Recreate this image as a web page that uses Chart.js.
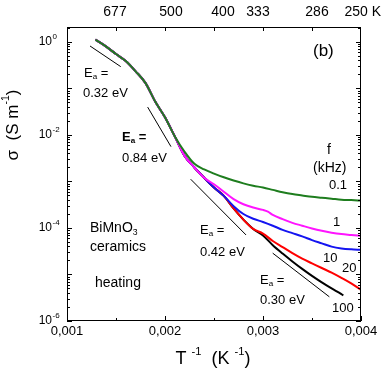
<!DOCTYPE html>
<html>
<head>
<meta charset="utf-8">
<script src="https://cdn.jsdelivr.net/npm/chart.js@4.4.0/dist/chart.umd.min.js"></script>
<style>
  body { margin: 0; background: #fff; }
</style>
</head>
<body>
<canvas id="myChart" width="384" height="374"></canvas>
<script>
// BiMnO3 ceramics, conductivity vs 1/T, heating run
// x = 1/T (1/K), y = sigma (S/m)

// part where all frequencies fall on one curve
const invT_common = [0.00129, 0.0014, 0.0015, 0.0016, 0.0017, 0.0018, 0.0019, 0.0020, 0.0021];
const sigma_common = [1.12, 0.794, 0.550, 0.389, 0.234, 0.132, 0.0525, 0.0240, 0.00933];

// 0.1 kHz (green)
const invT_f01 = invT_common.concat([0.0022, 0.0023, 0.0024, 0.0025, 0.0026, 0.0027, 0.0028, 0.0029, 0.0030,
  0.0031, 0.0032, 0.0033, 0.0034, 0.0035, 0.0036, 0.0037, 0.0038, 0.0039, 0.0040]);
const sigma_f01 = sigma_common.concat([4.37e-3, 2.40e-3, 1.82e-3, 1.48e-3, 1.23e-3, 1.05e-3, 9.12e-4, 8.13e-4, 7.41e-4,
  6.61e-4, 5.89e-4, 5.37e-4, 5.01e-4, 4.68e-4, 4.47e-4, 4.27e-4, 4.07e-4, 3.98e-4, 3.89e-4]);

// 1 kHz (magenta)
const invT_f1 = invT_common.concat([0.0022, 0.0023, 0.0024, 0.0025, 0.0026, 0.0027, 0.0028, 0.0029, 0.0030, 0.00305,
  0.0031, 0.0032, 0.0033, 0.0034, 0.0035, 0.0036, 0.0037, 0.0038, 0.0039, 0.0040]);
const sigma_f1 = sigma_common.concat([3.55e-3, 2.00e-3, 1.20e-3, 8.71e-4, 6.03e-4, 4.17e-4, 3.24e-4, 2.75e-4, 2.45e-4, 2.24e-4,
  1.91e-4, 1.55e-4, 1.29e-4, 1.12e-4, 9.77e-5, 8.71e-5, 7.94e-5, 7.41e-5, 7.08e-5, 6.76e-5]);

// 10 kHz (blue)
const invT_f10 = invT_common.concat([0.0022, 0.0023, 0.0024, 0.0025, 0.0026, 0.0027, 0.0028, 0.0029, 0.0030,
  0.0031, 0.0032, 0.0033, 0.0034, 0.0035, 0.0036, 0.0037, 0.0038, 0.0039, 0.0040]);
const sigma_f10 = sigma_common.concat([3.55e-3, 2.00e-3, 1.20e-3, 7.41e-4, 4.90e-4, 2.95e-4, 2.00e-4, 1.58e-4, 1.35e-4,
  1.12e-4, 9.12e-5, 7.76e-5, 6.61e-5, 5.50e-5, 4.68e-5, 3.98e-5, 3.63e-5, 3.47e-5, 3.39e-5]);

// 20 kHz (red)
const invT_f20 = invT_common.concat([0.0022, 0.0023, 0.0024, 0.0025, 0.0026, 0.0027, 0.0028, 0.0029, 0.0030,
  0.0031, 0.0032, 0.0033, 0.0034, 0.0035, 0.0036, 0.0037, 0.0038, 0.0039, 0.0040]);
const sigma_f20 = sigma_common.concat([3.55e-3, 2.00e-3, 1.20e-3, 7.41e-4, 4.90e-4, 2.63e-4, 1.51e-4, 9.55e-5, 7.59e-5,
  5.25e-5, 3.89e-5, 2.88e-5, 2.19e-5, 1.74e-5, 1.38e-5, 1.10e-5, 8.51e-6, 6.46e-6, 4.68e-6]);

// 100 kHz (black)
const invT_f100 = invT_common.concat([0.0022, 0.0023, 0.0024, 0.0025, 0.0026, 0.0027, 0.0028, 0.0029, 0.0030,
  0.0031, 0.0032, 0.0033, 0.0034, 0.0035, 0.0036, 0.0037, 0.0038, 0.00382]);
const sigma_f100 = sigma_common.concat([3.55e-3, 2.00e-3, 1.20e-3, 7.41e-4, 4.90e-4, 2.63e-4, 1.51e-4, 9.55e-5, 6.92e-5,
  4.27e-5, 2.82e-5, 1.91e-5, 1.32e-5, 9.33e-6, 6.76e-6, 5.01e-6, 3.80e-6, 3.55e-6]);

// activation energy guide lines (two end points each)
const fit_x = [[0.001235, 0.001548], [0.001823, 0.002061], [0.002262, 0.002827], [0.003099, 0.003677]];
const fit_y = [[0.82, 0.295], [0.0398, 0.00562], [1.12e-3, 7.08e-5], [2.88e-5, 3.31e-6]];

// bottom axis
const xMajor = [0.001, 0.002, 0.003, 0.004];
const xMinor = [0.0015, 0.0025, 0.0035];

// top axis: temperature in K
const topTicks = [0.0015, 0.002, 0.0025, 0.003, 0.0035];
const topLabels = ['677', '500', '400', '333', '286', '250 K'];
const topLabelAt = [0.0015, 0.002, 0.0025, 0.003, 0.0035, 0.004];

const yLabelExp = [0, -2, -4, -6];

const FONT = '"Liberation Sans", Arial, sans-serif';

function pts(xs, ys) {
  return xs.map((x, i) => ({ x: x, y: ys[i] }));
}

function curve(xs, ys, color, w) {
  return {
    data: pts(xs, ys),
    borderColor: color,
    borderWidth: w,
    showLine: true,
    pointRadius: 0,
    cubicInterpolationMode: 'monotone',
    fill: false
  };
}

// text with sub / superscripts: parts = [[text, mode]] mode 0 normal, 1 sup, -1 sub
function richWidth(ctx, parts, size, bold) {
  let w = 0;
  parts.forEach(([t, m]) => {
    ctx.font = (bold ? 'bold ' : '') + (m ? size * 0.62 : size) + 'px ' + FONT;
    w += ctx.measureText(t).width;
  });
  return w;
}
function rich(ctx, parts, x, y, size, bold) {
  let cx = x;
  parts.forEach(([t, m]) => {
    const s = m ? size * 0.62 : size;
    ctx.font = (bold ? 'bold ' : '') + s + 'px ' + FONT;
    let dy = 0;
    if (m === 1) dy = -size * 0.38;
    if (m === -1) dy = size * 0.32;
    ctx.fillText(t, cx, y + dy);
    cx += ctx.measureText(t).width;
  });
  return cx;
}

const frame = {
  id: 'frame',
  afterDraw(chart) {
    const ctx = chart.ctx, a = chart.chartArea;
    const xs = chart.scales.x, ys = chart.scales.y;
    ctx.save();
    ctx.strokeStyle = '#000';
    ctx.lineWidth = 1;
    ctx.strokeRect(a.left + 0.5, a.top + 0.5, a.right - a.left - 1, a.bottom - a.top - 1);

    ctx.beginPath();
    // bottom ticks
    xMajor.forEach(v => {
      const p = Math.round(xs.getPixelForValue(v)) + 0.5;
      ctx.moveTo(p, a.bottom); ctx.lineTo(p, a.bottom - 5);
    });
    xMinor.forEach(v => {
      const p = Math.round(xs.getPixelForValue(v)) + 0.5;
      ctx.moveTo(p, a.bottom); ctx.lineTo(p, a.bottom - 3);
    });
    // top ticks
    topTicks.forEach(v => {
      const p = Math.round(xs.getPixelForValue(v)) + 0.5;
      ctx.moveTo(p, a.top); ctx.lineTo(p, a.top + 4);
    });
    // y ticks, both sides
    for (let e = -6; e <= 0; e++) {
      for (let m = 1; m <= 9; m++) {
        const v = m * Math.pow(10, e);
        if (v > ys.max) continue;
        const p = Math.round(ys.getPixelForValue(v)) + 0.5;
        const len = m === 1 ? 5 : 3;
        ctx.moveTo(a.left, p); ctx.lineTo(a.left + len, p);
        ctx.moveTo(a.right, p); ctx.lineTo(a.right - len, p);
      }
    }
    ctx.stroke();

    ctx.fillStyle = '#000';
    ctx.textBaseline = 'middle';

    // x labels
    ctx.font = '13px ' + FONT;
    ctx.textAlign = 'center';
    xMajor.forEach(v => {
      ctx.fillText(v.toFixed(3).replace('.', ','), xs.getPixelForValue(v), 331);
    });

    // y labels 10^n
    yLabelExp.forEach(e => {
      const p = ys.getPixelForValue(Math.pow(10, e));
      ctx.font = '12px ' + FONT;
      ctx.textAlign = 'right';
      ctx.fillText('10', 52, p);
      ctx.textAlign = 'left';
      ctx.font = '8px ' + FONT;
      ctx.fillText(e === 0 ? '0' : '-' + (-e), 52.5, p - 5);
    });

    // top temperature labels
    ctx.font = '14px ' + FONT;
    topLabels.forEach((t, i) => {
      const p = xs.getPixelForValue(topLabelAt[i]);
      if (i === topLabels.length - 1) {
        ctx.textAlign = 'right';
        ctx.fillText(t, 381, 12);
      } else {
        ctx.textAlign = 'center';
        ctx.fillText(t, p + [-1, 6, 9, -5, 5][i], 12);
      }
    });
    ctx.textAlign = 'left';

    // axis titles
    const xt = [['T ', 0], ['-1', 1], ['  (K ', 0], ['-1', 1], [')', 0]];
    const xw = richWidth(ctx, xt, 18);
    rich(ctx, xt, 213 - xw / 2, 359, 18);

    const yt = [['\u03c3  (S m', 0], ['-1', 1], [')', 0]];
    const yw = richWidth(ctx, yt, 17);
    ctx.save();
    ctx.translate(13, 125);
    ctx.rotate(-Math.PI / 2);
    rich(ctx, yt, -yw / 2, 0, 17);
    ctx.restore();

    // panel mark
    ctx.font = '17px ' + FONT;
    ctx.fillText('(b)', 313, 51);

    // activation energies
    const ea = [['E', 0], ['a', -1], [' =', 0]];
    rich(ctx, ea, 84, 73, 13);
    rich(ctx, [['0.32 eV', 0]], 83, 93, 13);
    rich(ctx, ea, 122, 137, 13, true);
    rich(ctx, [['0.84 eV', 0]], 122, 158, 13);
    rich(ctx, ea, 200, 230, 13);
    rich(ctx, [['0.42 eV', 0]], 200, 252, 13);
    rich(ctx, ea, 260, 280, 13);
    rich(ctx, [['0.30 eV', 0]], 260, 300, 13);

    // frequencies
    ctx.font = '14px ' + FONT;
    ctx.fillText('f', 327, 150);
    ctx.fillText('(kHz)', 313, 168);
    ctx.font = '13px ' + FONT;
    ctx.fillText('0.1', 329, 185);
    ctx.fillText('1', 333, 222);
    ctx.fillText('10', 323, 258);
    ctx.fillText('20', 342, 268);
    ctx.fillText('100', 332, 308);

    // sample
    rich(ctx, [['BiMnO', 0], ['3', -1]], 90, 228, 14);
    rich(ctx, [['ceramics', 0]], 90, 247, 14);
    rich(ctx, [['heating', 0]], 95, 283, 14);

    ctx.restore();
  }
};

const datasets = [
  curve(invT_f01, sigma_f01, '#1e7d1e', 2),
  curve(invT_f1, sigma_f1, '#ff14ff', 2),
  curve(invT_f10, sigma_f10, '#1414f0', 2),
  curve(invT_f20, sigma_f20, '#ff0000', 2),
  curve(invT_f100, sigma_f100, '#000000', 2)
];
fit_x.forEach((xs, i) => {
  const d = curve(xs, fit_y[i], '#000000', 1);
  d.cubicInterpolationMode = 'default';
  datasets.push(d);
});

new Chart(document.getElementById('myChart'), {
  type: 'scatter',
  data: { datasets: datasets },
  options: {
    responsive: false,
    animation: false,
    layout: { padding: { top: 27, right: 23, left: 0, bottom: 0 } },
    plugins: { legend: { display: false }, tooltip: { enabled: false } },
    scales: {
      x: {
        type: 'linear',
        min: 0.001,
        max: 0.004,
        grid: { display: false },
        border: { display: false },
        ticks: { display: false },
        afterFit: s => { s.height = 53; }
      },
      y: {
        type: 'logarithmic',
        min: 1e-6,
        max: 2.1,
        grid: { display: false },
        border: { display: false },
        ticks: { display: false },
        afterFit: s => { s.width = 67; }
      }
    }
  },
  plugins: [frame]
});
</script>
</body>
</html>
